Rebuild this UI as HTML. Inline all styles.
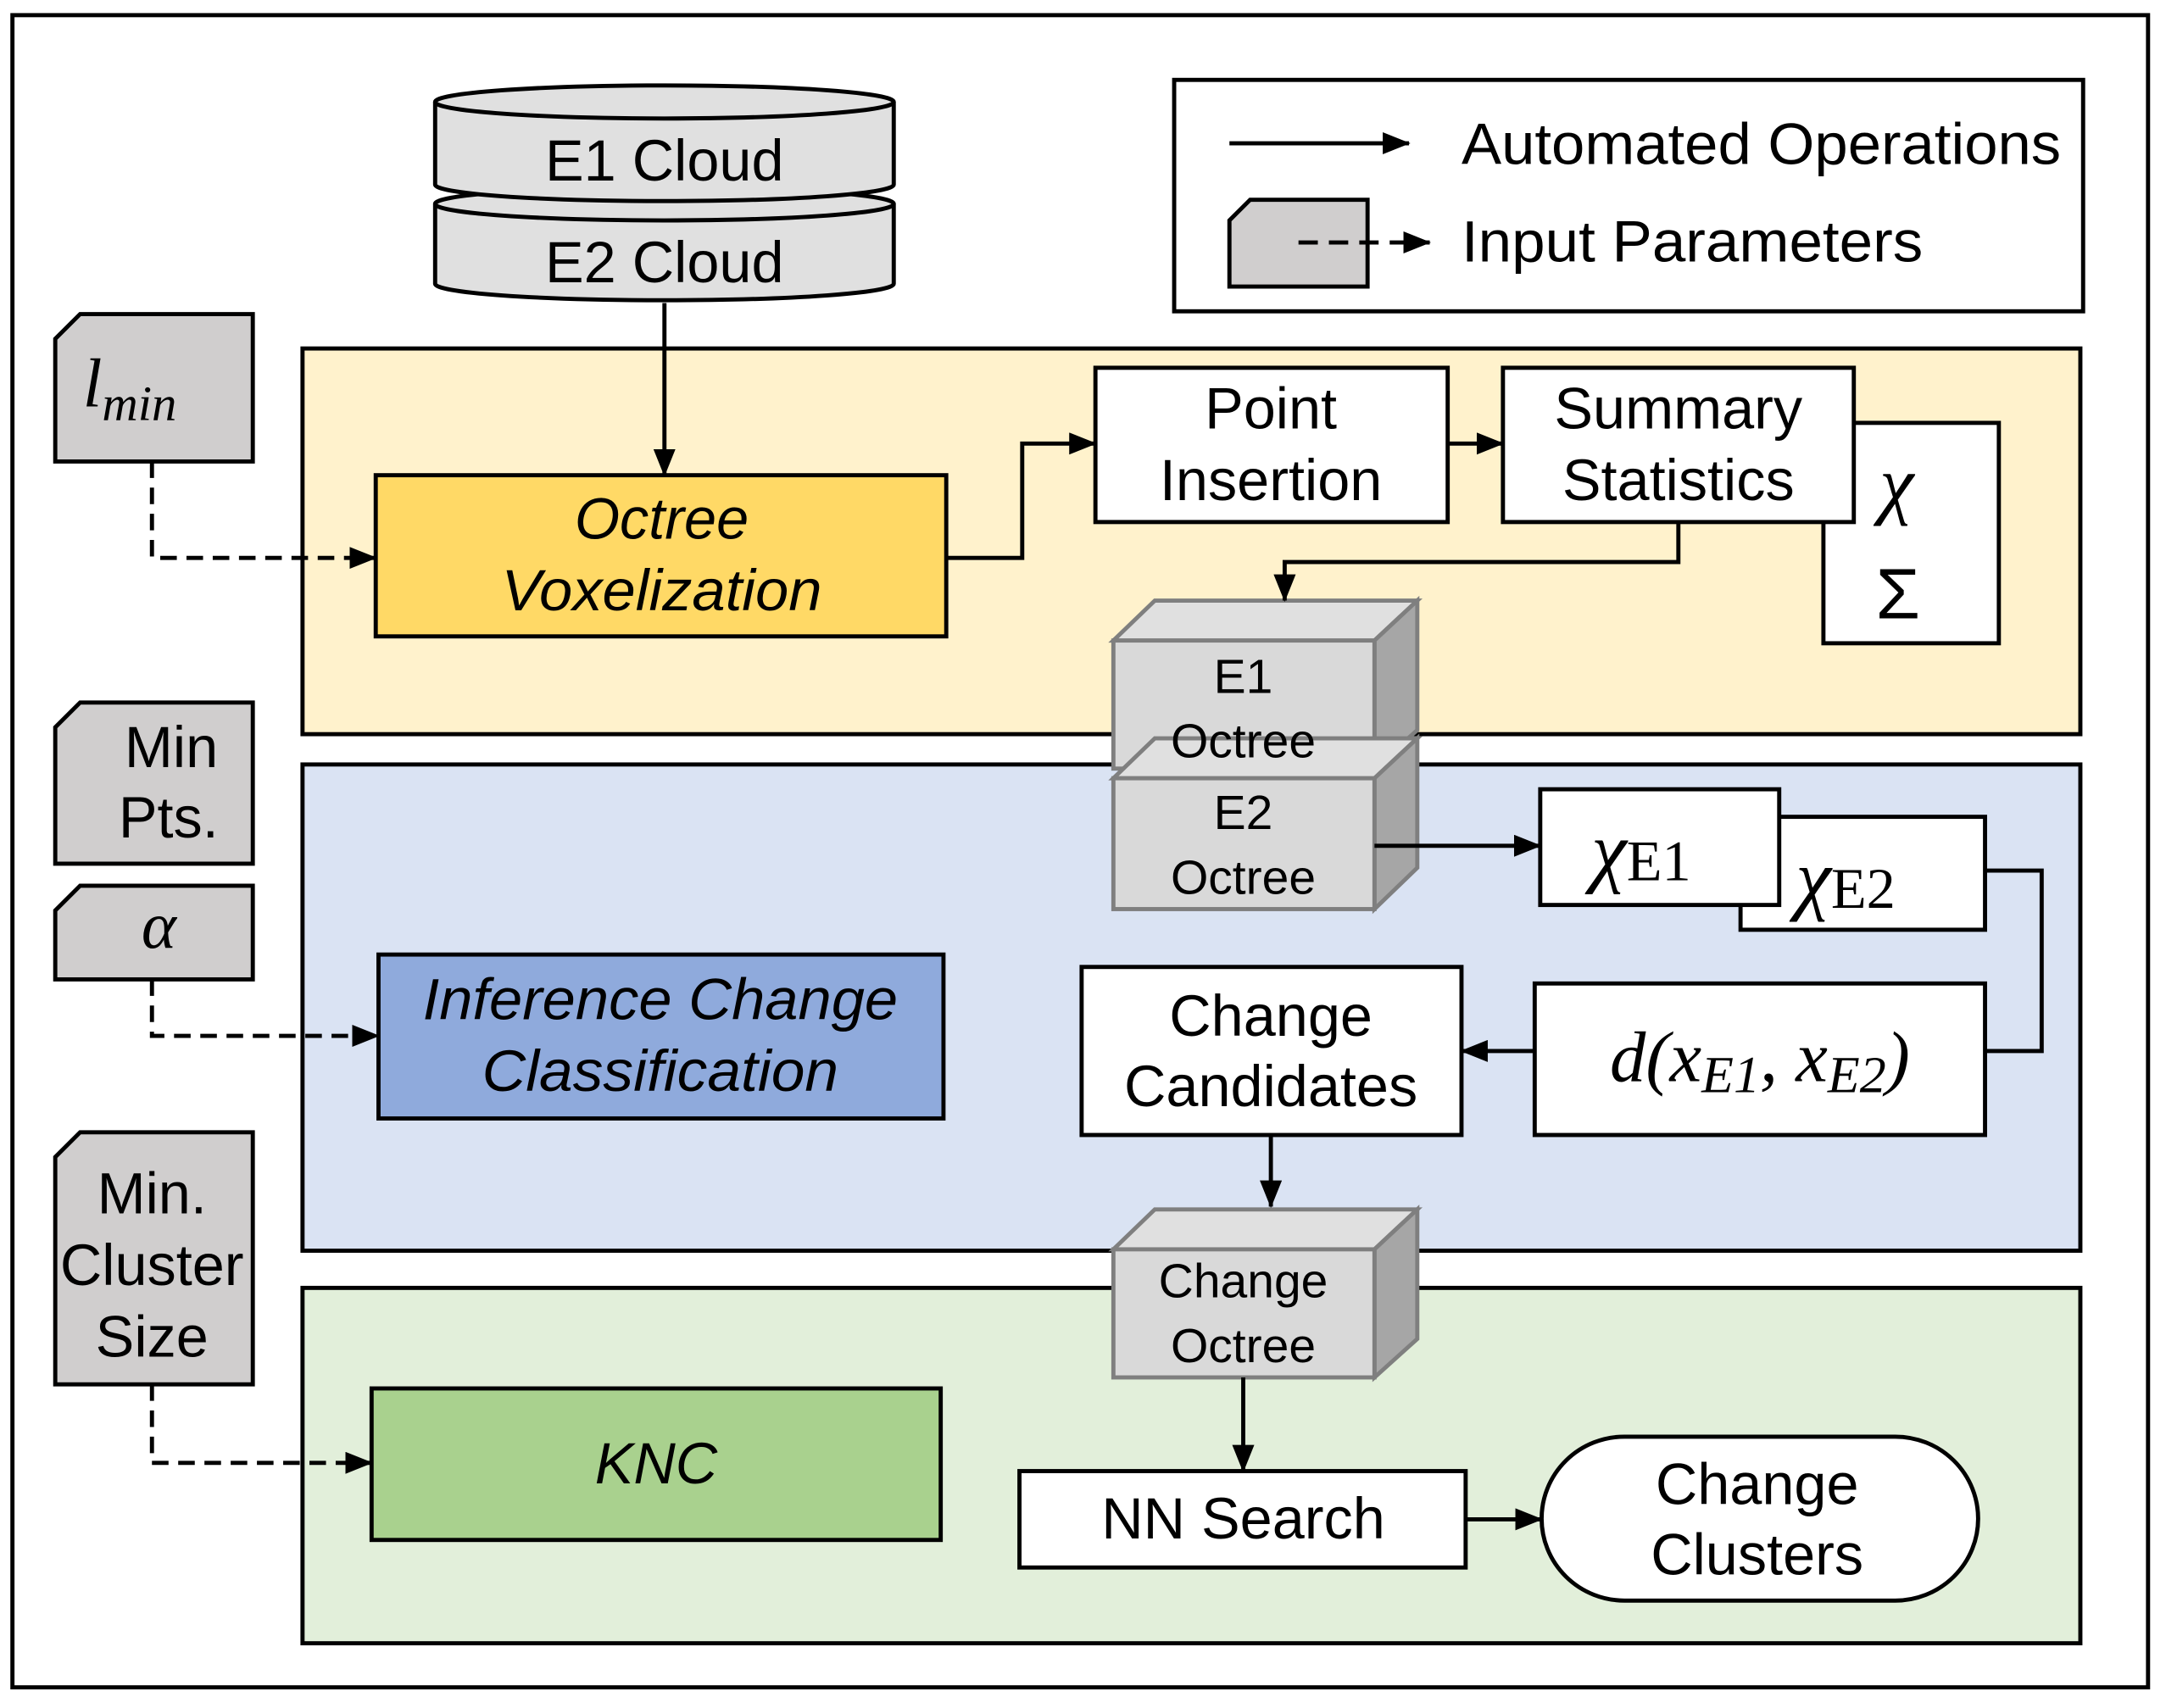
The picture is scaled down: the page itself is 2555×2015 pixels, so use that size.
<!DOCTYPE html>
<html><head><meta charset="utf-8"><style>
html,body{margin:0;padding:0;background:#fff;}
svg{display:block;}
text{font-family:"Liberation Sans",sans-serif;fill:#000;}
.m{font-family:"Liberation Serif",serif;font-style:italic;}
</style></head><body>
<svg width="2555" height="2015" viewBox="0 0 1568 1240" preserveAspectRatio="none" xmlns="http://www.w3.org/2000/svg">
<defs>
<marker id="ah2" markerWidth="20" markerHeight="16" refX="19" refY="8" orient="auto" markerUnits="userSpaceOnUse">
<path d="M0,0 L20,8 L0,16 Z" fill="#000"/></marker>
</defs>
<rect x="0" y="0" width="1568" height="1240" fill="#fff"/>
<rect x="9" y="11" width="1546" height="1214" fill="#fff" stroke="#000" stroke-width="3"/>

<!-- legend -->
<rect x="850" y="58" width="658" height="168" fill="#fff" stroke="#000" stroke-width="3"/>
<line x1="890" y1="104" x2="1020" y2="104" stroke="#000" stroke-width="3" marker-end="url(#ah2)"/>
<text x="1058" y="119" font-size="42" textLength="434" lengthAdjust="spacingAndGlyphs">Automated Operations</text>
<path d="M890,208 L890,160 L905,145 L990,145 L990,208 Z" fill="#d0cece" stroke="#000" stroke-width="3"/>
<line x1="940" y1="176" x2="1035" y2="176" stroke="#000" stroke-width="3" stroke-dasharray="14,8" marker-end="url(#ah2)"/>
<text x="1058" y="190" font-size="42" textLength="334" lengthAdjust="spacingAndGlyphs">Input Parameters</text>

<!-- panels -->
<rect x="219" y="253" width="1287" height="280" fill="#fff2cc" stroke="#000" stroke-width="3"/>
<rect x="219" y="555" width="1287" height="353" fill="#dae3f3" stroke="#000" stroke-width="3"/>
<rect x="219" y="935" width="1287" height="258" fill="#e2efda" stroke="#000" stroke-width="3"/>

<!-- cylinders -->
<g stroke="#000" stroke-width="3" fill="#e0e0e0">
<path d="M315,148 L315,206 A166,12 0 0 0 647,206 L647,148"/>
<ellipse cx="481" cy="148" rx="166" ry="12"/>
<path d="M315,74 L315,134 A166,12 0 0 0 647,134 L647,74"/>
<ellipse cx="481" cy="74" rx="166" ry="12"/>
</g>
<text x="481" y="131" font-size="42" text-anchor="middle">E1 Cloud</text>
<text x="481" y="205" font-size="42" text-anchor="middle">E2 Cloud</text>
<line x1="481" y1="220" x2="481" y2="345" stroke="#000" stroke-width="3" marker-end="url(#ah2)"/>

<!-- params -->
<g fill="#d0cece" stroke="#000" stroke-width="3">
<path d="M40,335 L40,246 L58,228 L183,228 L183,335 Z"/>
<path d="M40,627 L40,528 L58,510 L183,510 L183,627 Z"/>
<path d="M40,711 L40,661 L58,643 L183,643 L183,711 Z"/>
<path d="M40,1005 L40,840 L58,822 L183,822 L183,1005 Z"/>
</g>
<text x="60" y="295" font-size="50" class="m">l<tspan font-size="36" dy="10">min</tspan></text>
<text x="124" y="557" font-size="42" text-anchor="middle">Min</text>
<text x="122" y="608" font-size="42" text-anchor="middle">Pts.</text>
<text x="115" y="688" font-size="48" class="m" text-anchor="middle">α</text>
<text x="110" y="881" font-size="42" text-anchor="middle">Min.</text>
<text x="110" y="933" font-size="42" text-anchor="middle">Cluster</text>
<text x="110" y="985" font-size="42" text-anchor="middle">Size</text>
<g stroke="#000" stroke-width="3" fill="none" stroke-dasharray="12,7">
<path d="M110,335 L110,405 L272,405" marker-end="url(#ah2)"/>
<path d="M110,711 L110,752 L274,752" marker-end="url(#ah2)"/>
<path d="M110,1005 L110,1062 L269,1062" marker-end="url(#ah2)"/>
</g>

<!-- main boxes -->
<g stroke="#000" stroke-width="3">
<rect x="272" y="345" width="413" height="117" fill="#ffd966"/>
<rect x="274" y="693" width="409" height="119" fill="#8faadc"/>
<rect x="269" y="1008" width="412" height="110" fill="#a9d18e"/>
<rect x="1320" y="307" width="127" height="160" fill="#fff"/>
<rect x="793" y="267" width="255" height="112" fill="#fff"/>
<rect x="1088" y="267" width="254" height="112" fill="#fff"/>
<rect x="1260" y="593" width="177" height="82" fill="#fff"/>
<rect x="1115" y="573" width="173" height="84" fill="#fff"/>
<rect x="1111" y="714" width="326" height="110" fill="#fff"/>
<rect x="783" y="702" width="275" height="122" fill="#fff"/>
<rect x="738" y="1068" width="323" height="70" fill="#fff"/>
<rect x="1116" y="1043" width="316" height="119" rx="60" fill="#fff"/>
</g>
<text x="479" y="391" font-size="42" font-style="italic" text-anchor="middle">Octree</text>
<text x="479" y="443" font-size="42" font-style="italic" text-anchor="middle" textLength="232" lengthAdjust="spacingAndGlyphs">Voxelization</text>
<text x="478" y="740" font-size="42" font-style="italic" text-anchor="middle" textLength="344" lengthAdjust="spacingAndGlyphs">Inference Change</text>
<text x="478" y="792" font-size="42" font-style="italic" text-anchor="middle" textLength="258" lengthAdjust="spacingAndGlyphs">Classification</text>
<text x="475" y="1077" font-size="42" font-style="italic" text-anchor="middle">KNC</text>
<text x="920" y="311" font-size="42" text-anchor="middle">Point</text>
<text x="920" y="363" font-size="42" text-anchor="middle">Insertion</text>
<text x="1215" y="311" font-size="42" text-anchor="middle">Summary</text>
<text x="1215" y="363" font-size="42" text-anchor="middle">Statistics</text>
<text x="1373" y="370" font-size="56" class="m" text-anchor="middle">χ</text>
<text x="1374" y="449" font-size="52" text-anchor="middle" font-family="DejaVu Sans">Σ</text>
<text x="1152" y="637" font-size="58" class="m">χ<tspan font-size="42" dy="2" font-style="normal">E1</tspan></text>
<text x="1300" y="657" font-size="58" class="m">χ<tspan font-size="42" dy="2" font-style="normal">E2</tspan></text>
<text x="1274" y="785" font-size="52" class="m" text-anchor="middle">d(x<tspan font-size="38" dy="8">E1</tspan><tspan dy="-8">, x</tspan><tspan font-size="38" dy="8">E2</tspan><tspan dy="-8">)</tspan></text>
<text x="920" y="752" font-size="42" text-anchor="middle">Change</text>
<text x="920" y="803" font-size="42" text-anchor="middle">Candidates</text>
<text x="900" y="1117" font-size="42" text-anchor="middle">NN Search</text>
<text x="1272" y="1092" font-size="42" text-anchor="middle">Change</text>
<text x="1272" y="1143" font-size="42" text-anchor="middle">Clusters</text>

<!-- cubes -->
<g stroke="#7f7f7f" stroke-width="3">
<polygon points="806,465 836,436 1026,436 995,465" fill="#e0e0e0"/>
<polygon points="995,465 1026,436 1026,530 995,558" fill="#a6a6a6"/>
<rect x="806" y="465" width="189" height="93" fill="#d9d9d9"/>
<polygon points="806,565 836,536 1026,536 995,565" fill="#e0e0e0"/>
<polygon points="995,565 1026,536 1026,630 995,660" fill="#a6a6a6"/>
<rect x="806" y="565" width="189" height="95" fill="#d9d9d9"/>
<polygon points="806,907 836,878 1026,878 995,907" fill="#e0e0e0"/>
<polygon points="995,907 1026,878 1026,972 995,1000" fill="#a6a6a6"/>
<rect x="806" y="907" width="189" height="93" fill="#d9d9d9"/>
</g>
<text x="900" y="503" font-size="35" text-anchor="middle">E1</text>
<text x="900" y="550" font-size="35" text-anchor="middle">Octree</text>
<text x="900" y="602" font-size="35" text-anchor="middle">E2</text>
<text x="900" y="649" font-size="35" text-anchor="middle">Octree</text>
<text x="900" y="942" font-size="35" text-anchor="middle">Change</text>
<text x="900" y="989" font-size="35" text-anchor="middle">Octree</text>

<!-- connectors -->
<g stroke="#000" stroke-width="3" fill="none">
<path d="M685,405 L740,405 L740,322 L793,322" marker-end="url(#ah2)"/>
<path d="M1048,322 L1088,322" marker-end="url(#ah2)"/>
<path d="M1215,379 L1215,408 L930,408 L930,436" marker-end="url(#ah2)"/>
<path d="M995,614 L1115,614" marker-end="url(#ah2)"/>
<path d="M1437,632 L1478,632 L1478,763 L1437,763"/>
<path d="M1111,763 L1058,763" marker-end="url(#ah2)"/>
<path d="M920,824 L920,876" marker-end="url(#ah2)"/>
<path d="M900,1000 L900,1068" marker-end="url(#ah2)"/>
<path d="M1061,1103 L1116,1103" marker-end="url(#ah2)"/>
</g>
</svg>
</body></html>
